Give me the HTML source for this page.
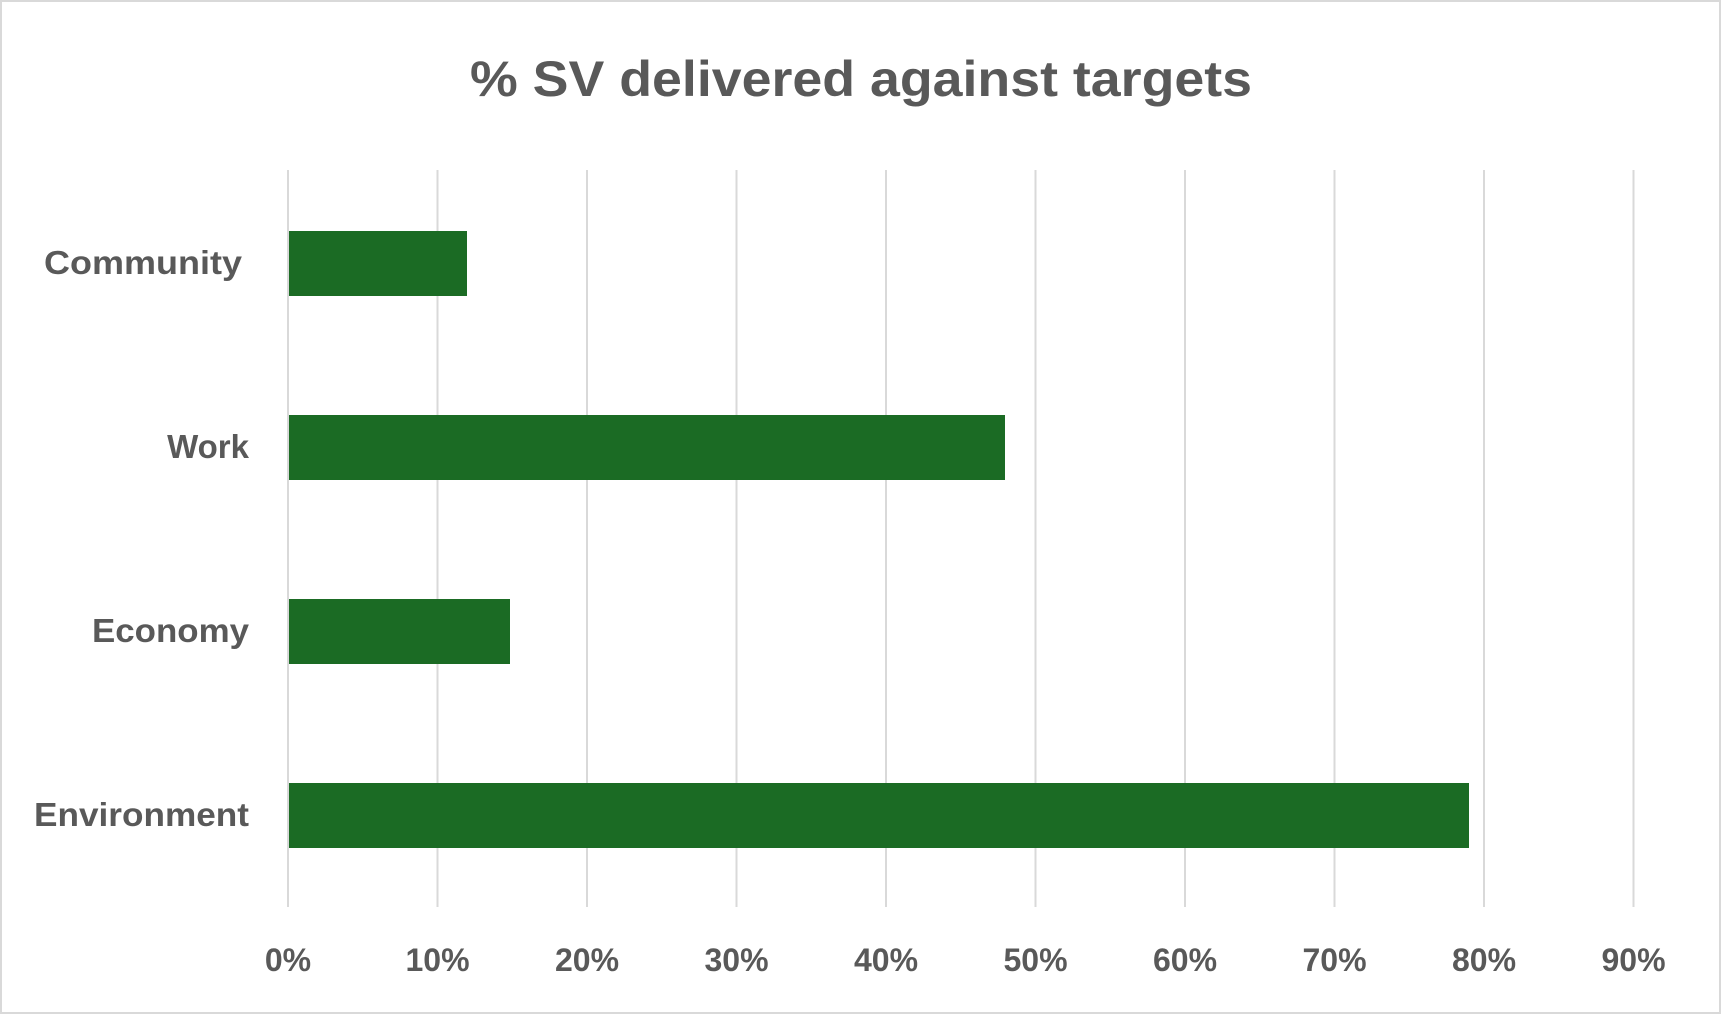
<!DOCTYPE html>
<html><head><style>
body{margin:0;background:#fff;}
svg text{font-family:"Liberation Sans",sans-serif;font-weight:bold;fill:#595959;}
</style></head><body>
<svg width="1722" height="1015" xmlns="http://www.w3.org/2000/svg">
<rect x="1" y="1" width="1719" height="1012" fill="#fff" stroke="#d9d9d9" stroke-width="2"/>
<text x="861" y="96" font-size="50" text-anchor="middle" textLength="782" lengthAdjust="spacingAndGlyphs">% SV delivered against targets</text>
<g stroke="#d9d9d9" stroke-width="2">
<line x1="288" y1="170" x2="288" y2="907"/>
<line x1="437.5" y1="170" x2="437.5" y2="907"/>
<line x1="587" y1="170" x2="587" y2="907"/>
<line x1="736.5" y1="170" x2="736.5" y2="907"/>
<line x1="886" y1="170" x2="886" y2="907"/>
<line x1="1035.5" y1="170" x2="1035.5" y2="907"/>
<line x1="1185" y1="170" x2="1185" y2="907"/>
<line x1="1334.5" y1="170" x2="1334.5" y2="907"/>
<line x1="1484" y1="170" x2="1484" y2="907"/>
<line x1="1633.5" y1="170" x2="1633.5" y2="907"/>
</g>
<g fill="#1b6b24">
<rect x="289" y="231" width="178" height="65"/>
<rect x="289" y="415" width="716" height="65"/>
<rect x="289" y="599" width="221" height="65"/>
<rect x="289" y="783" width="1180" height="65"/>
</g>
<g font-size="33" text-anchor="end">
<text x="242" y="274" textLength="198" lengthAdjust="spacingAndGlyphs">Community</text>
<text x="249" y="458">Work</text>
<text x="249" y="642" textLength="157" lengthAdjust="spacingAndGlyphs">Economy</text>
<text x="249" y="826" textLength="215" lengthAdjust="spacingAndGlyphs">Environment</text>
</g>
<g font-size="32" text-anchor="middle">
<text x="288" y="971">0%</text>
<text x="437.5" y="971">10%</text>
<text x="587" y="971">20%</text>
<text x="736.5" y="971">30%</text>
<text x="886" y="971">40%</text>
<text x="1035.5" y="971">50%</text>
<text x="1185" y="971">60%</text>
<text x="1334.5" y="971">70%</text>
<text x="1484" y="971">80%</text>
<text x="1633.5" y="971">90%</text>
</g>
</svg>
</body></html>
